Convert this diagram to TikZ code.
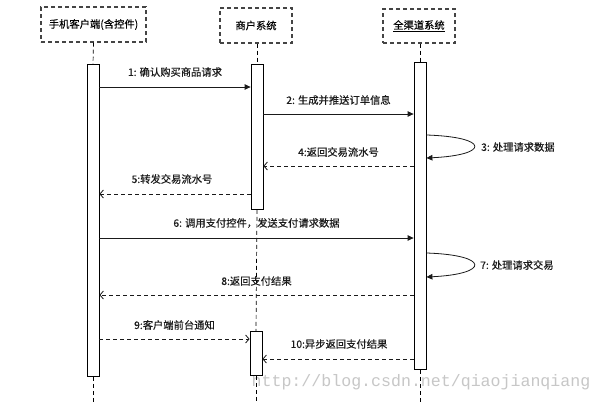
\documentclass[tikz,border=0pt]{standalone}
\usepackage{fontspec}
\setmainfont{Noto Sans CJK SC}
\newfontface\lblfont{Noto Sans CJK SC}[FakeBold=0.35]
\newfontface\headfont{Noto Sans CJK SC}[FakeBold=0.12]
\newfontfamily\wmfont{Liberation Mono}
\usetikzlibrary{arrows.meta}
\definecolor{ink}{HTML}{1A1A1A}
\definecolor{boxgray}{HTML}{444444}
\tikzset{
  headbox/.style={draw=boxgray, line width=1.1pt, dash pattern=on 4pt off 3pt, fill=white,
    inner sep=0pt, font=\headfont\fontsize{10.3}{12}\selectfont},
  actbar/.style={draw=black, line width=0.8pt, fill=white, minimum width=12, inner sep=0pt, anchor=north},
  lifeline/.style={draw=black, line width=0.7pt, dash pattern=on 4pt off 3pt},
  callmsg/.style={draw=ink, line width=0.8pt, -{Triangle[length=6pt,width=5.5pt]}},
  retmsg/.style={draw=ink, line width=0.8pt, dash pattern=on 4pt off 3pt, -{Straight Barb[length=3.5pt,width=8pt]}},
  msglabel/.style={font=\lblfont\fontsize{10.3}{12}\selectfont, text=ink, inner sep=0pt},
  wmtext/.style={font=\wmfont\fontsize{16.6}{18}\selectfont, text=black!22, inner sep=0pt}
}
\begin{document}
\begin{tikzpicture}[x=1pt,y=-1pt]
\useasboundingbox[fill=white] (0,0) rectangle (602,402);

% watermark text
\node[wmtext] (wm) at (421,382) {http://blog.csdn.net/qiaojianqiang};

% heads
\node[headbox, minimum width=105, minimum height=35] (h1) at (93.5,24.5) {手机客户端(含控件)};
\node[headbox, minimum width=72, minimum height=35] (h2) at (256,25.5) {商户系统};
\node[headbox, minimum width=72, minimum height=34] (h3) at (419,26) {\underline{全渠道系统}};

% end points of lifelines
\coordinate (e1) at (93,402);
\coordinate (e2) at (256.5,402);
\coordinate (e3) at (420,402);

% activation bars
\node[actbar, minimum height=312] (a1) at (93,64) {};
\node[actbar, minimum height=145] (a2) at (257,64) {};
\node[actbar, minimum height=44] (a2b) at (256,331) {};
\node[actbar, minimum height=307] (a3) at (420,62) {};

% lifelines
\draw[lifeline] (h1.south) -- (a1.north);
\draw[lifeline] (h2.south -| a2.north) -- (a2.north);
\draw[lifeline] (h3.south -| a3.north) -- (a3.north);
\draw[lifeline] (a1.south) -- (e1);
\draw[lifeline] (a2.south) -- (a2b.north);
\draw[lifeline] (a2b.south) -- (e2 -| a2b.south);
\draw[lifeline] (a3.south) -- (e3 -| a3.south);

% messages
\draw[callmsg] (a1.east |- 0,87) -- node[msglabel, midway, yshift=15pt] (l1) {1: 确认购买商品请求} (a2.west |- 0,87);
\draw[callmsg] (a2.east |- 0,114) -- node[msglabel, midway, yshift=14pt] (l2) {2: 生成并推送订单信息} (a3.west |- 0,114);
\draw[callmsg] (a3.east |- 0,135) .. controls (490,137) and (490,155) .. (a3.east |- 0,158);
\node[msglabel, anchor=west] (l3) at (481,147) {3: 处理请求数据};
\draw[retmsg] (a3.west |- 0,166) -- node[msglabel, midway, yshift=14pt] (l4) {4:返回交易流水号} (a2.east |- 0,166);
\draw[retmsg] (a2.west |- 0,194) -- node[msglabel, midway, xshift=-3pt, yshift=15pt] (l5) {5:转发交易流水号} (a1.east |- 0,194);
\draw[callmsg] (a1.east |- 0,238) -- node[msglabel, midway, yshift=15pt] (l6) {6: 调用支付控件，发送支付请求数据} (a3.west |- 0,238);
\draw[callmsg] (a3.east |- 0,253) .. controls (490,255) and (490,274) .. (a3.east |- 0,277);
\node[msglabel, anchor=west] (l7) at (480,265) {7: 处理请求交易};
\draw[retmsg] (a3.west |- 0,295) -- node[msglabel, midway, yshift=14pt] (l8) {8:返回支付结果} (a1.east |- 0,295);
\draw[retmsg] (a1.east |- 0,339) -- node[msglabel, midway, yshift=14pt] (l9) {9:客户端前台通知} (a2b.west |- 0,339);
\draw[retmsg] (a3.west |- 0,359) -- node[msglabel, midway, xshift=1pt, yshift=15pt] (l10) {10:异步返回支付结果} (a2b.east |- 0,359);
\end{tikzpicture}
\end{document}
